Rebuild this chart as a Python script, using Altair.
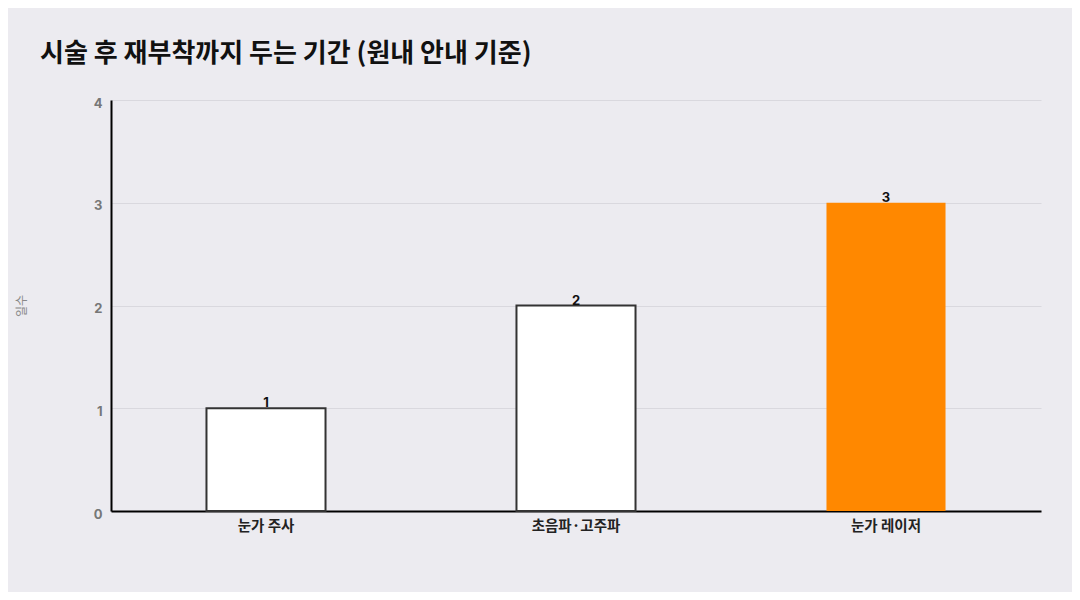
import altair as alt
import pandas as pd

categories = ["눈가 주사", "초음파·고주파", "눈가 레이저"]
days = [1, 2, 3]
groups = ["기타", "기타", "강조"]
y_ticks = [0, 1, 2, 3, 4]

df = pd.DataFrame({"시술": categories, "일수": days, "구분": groups})

FONT = "Inter, 'Noto Sans CJK KR', 'Noto Sans', sans-serif"
KFONT = "'Noto Sans CJK KR', Inter, sans-serif"

x = alt.X(
    "시술:N",
    sort=categories,
    scale=alt.Scale(paddingInner=0.616, paddingOuter=0.308),
    axis=alt.Axis(
        title=None,
        labelAngle=0,
        ticks=False,
        domainColor="#000000",
        domainWidth=2,
        labelPadding=8,
        labelFontSize=14.5,
        labelFontWeight="bold",
        labelColor="#222222",
        labelFont=KFONT,
        grid=False,
    ),
)

y = alt.Y(
    "일수:Q",
    scale=alt.Scale(domain=[0, 4], nice=False),
    axis=alt.Axis(
        title="일수",
        values=y_ticks,
        format="d",
        ticks=False,
        domainColor="#000000",
        domainWidth=2,
        labelPadding=9,
        labelOffset=3,
        labelFontSize=13,
        labelFontWeight="bold",
        labelColor="#777777",
        labelFont=FONT,
        grid=True,
        gridColor="#D9D8DE",
        gridWidth=1,
        titleFont=KFONT,
        titleFontSize=12,
        titleFontWeight="normal",
        titleColor="#888888",
        titleX=-83,
    ),
)

bars = alt.Chart(df).mark_bar(strokeWidth=2).encode(
    x=x,
    y=y,
    fill=alt.Fill(
        "구분:N",
        scale=alt.Scale(domain=["기타", "강조"], range=["#FFFFFF", "#FF8800"]),
        legend=None,
    ),
    stroke=alt.Stroke(
        "구분:N",
        scale=alt.Scale(domain=["기타", "강조"], range=["#333333", "#FF8800"]),
        legend=None,
    ),
    strokeOpacity=alt.StrokeOpacity(
        "구분:N",
        scale=alt.Scale(domain=["기타", "강조"], range=[1, 0]),
        legend=None,
    ),
)

labels = alt.Chart(df).mark_text(
    baseline="alphabetic",
    dy=-1,
    fontSize=13,
    fontWeight="bold",
    color="#111111",
    font=FONT,
).encode(
    x=alt.X("시술:N", sort=categories),
    y=alt.Y("일수:Q"),
    text=alt.Text("일수:Q"),
)

chart = (
    alt.layer(bars, labels)
    .properties(
        width=930,
        height=411,
        autosize=alt.AutoSizeParams(type="none"),
        padding={"left": 103, "top": 92, "right": 31, "bottom": 81},
        background="#ECEBF0",
        title=alt.TitleParams(
            text="시술 후 재부착까지 두는 기간 (원내 안내 기준)",
            anchor="start",
            frame="group",
            dx=-71,
            offset=30,
            fontSize=26,
            fontWeight="bold",
            color="#111111",
            font=KFONT,
        ),
    )
    .configure_view(stroke=None)
)

chart.save("out.html", embed_options={"renderer": "svg", "actions": False})
